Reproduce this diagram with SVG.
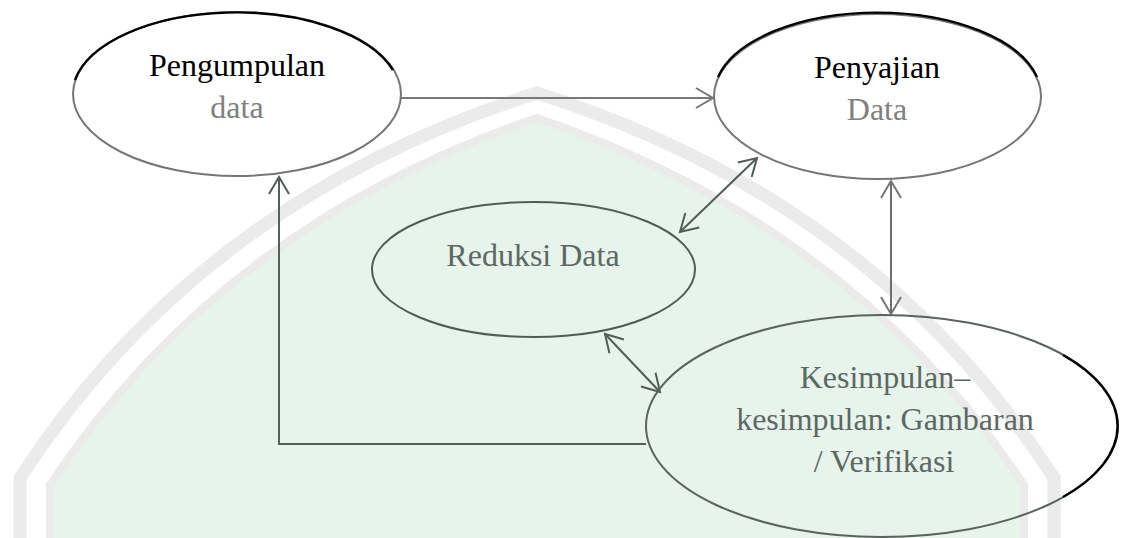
<svg xmlns="http://www.w3.org/2000/svg" width="1121" height="538" viewBox="0 0 1121 538">
  <style>
    .lbl { font-family: "Liberation Serif", "Times New Roman", serif; font-size: 32px; text-anchor: middle; }
    .band { fill: none; stroke: #ebebeb; }
    .con { fill: none; stroke-width: 2; }
  </style>
  <defs>
    <marker id="arrG" viewBox="-20 -12 22 24" refX="0" refY="0" markerWidth="22" markerHeight="24" markerUnits="userSpaceOnUse" orient="auto-start-reverse">
      <path d="M -17 -10 L 0 0 L -17 10" fill="none" stroke="#767676" stroke-width="2"/>
    </marker>
    <marker id="arrD" viewBox="-20 -12 22 24" refX="0" refY="0" markerWidth="22" markerHeight="24" markerUnits="userSpaceOnUse" orient="auto-start-reverse">
      <path d="M -17 -10 L 0 0 L -17 10" fill="none" stroke="#525c57" stroke-width="2"/>
    </marker>
  </defs>

  <rect x="0" y="0" width="1121" height="538" fill="#ffffff"/>

  <g id="watermark">
    <path d="M 50 538 L 50 485 Q 222 225 537 118 Q 852 225 1024 485 L 1024 538 Z" fill="#e6f4ec"/>
    <path class="band" stroke-width="13" d="M 20 538 L 20 478 Q 200 200 537 93 Q 874 200 1054 478 L 1054 538"/>
    <path class="band" stroke-width="8" stroke="#ededed" d="M 50 538 L 50 485 Q 222 225 537 118 Q 852 225 1024 485 L 1024 538"/>
  </g>

  <g id="connectors">
    <path class="con" stroke="#787878" d="M 401 98 L 713 98" marker-end="url(#arrG)"/>
    <path class="con" stroke="#6e6e6e" d="M 891 181 L 891 314" marker-start="url(#arrG)" marker-end="url(#arrG)"/>
    <path class="con" stroke="#525c57" d="M 680 232 L 757 158" marker-start="url(#arrD)" marker-end="url(#arrD)"/>
    <path class="con" stroke="#525c57" d="M 605 334 L 660 392" marker-start="url(#arrD)" marker-end="url(#arrD)"/>
    <path class="con" stroke="#55605a" d="M 646 444 L 279 444 L 279 177" marker-end="url(#arrD)"/>
  </g>

  <g id="node-pengumpulan">
    <ellipse cx="237" cy="94" rx="164" ry="82" fill="#ffffff" stroke="#767676" stroke-width="2"/>
    <path d="M 75 80 A 164 82 0 0 1 393 70" fill="none" stroke="#000000" stroke-width="2.4"/>
    <text class="lbl" x="237" y="76" fill="#000000">Pengumpulan</text>
    <text class="lbl" x="237" y="118" fill="#808080">data</text>
  </g>

  <g id="node-penyajian">
    <ellipse cx="877.5" cy="96.5" rx="163.5" ry="82.5" fill="#ffffff" stroke="#767676" stroke-width="2"/>
    <path d="M 718 77 A 163.5 82.5 0 0 1 1037 77" fill="none" stroke="#000000" stroke-width="2.4"/>
    <text class="lbl" x="877" y="78" fill="#000000">Penyajian</text>
    <text class="lbl" x="877" y="120" fill="#808080">Data</text>
  </g>

  <g id="node-reduksi">
    <ellipse cx="533.5" cy="269.5" rx="161.5" ry="67.5" fill="none" stroke="#525c57" stroke-width="2"/>
    <text class="lbl" x="533" y="266" fill="#5d6863">Reduksi Data</text>
  </g>

  <g id="node-kesimpulan">
    <ellipse cx="882" cy="426" rx="236" ry="111" fill="none" stroke="#5a635f" stroke-width="2"/>
    <path d="M 1063 355 A 236 111 0 0 1 1063 497" fill="none" stroke="#000000" stroke-width="2.4"/>
    <text class="lbl" x="885" y="388" fill="#5d6863">Kesimpulan–</text>
    <text class="lbl" x="885" y="430" fill="#5d6863">kesimpulan: Gambaran</text>
    <text class="lbl" x="884" y="472" fill="#5d6863">/ Verifikasi</text>
  </g>
</svg>
